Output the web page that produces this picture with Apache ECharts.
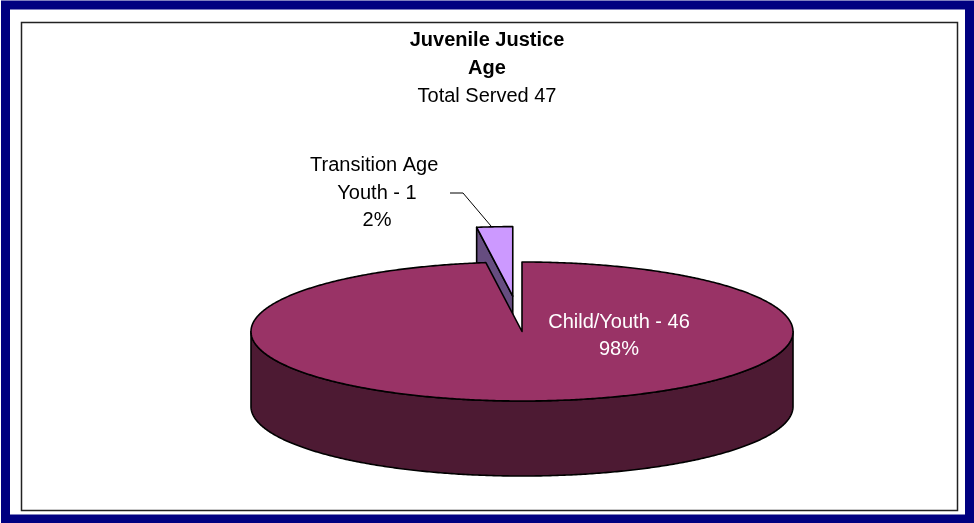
<!DOCTYPE html>
<html><head><meta charset="utf-8">
<script src="https://cdn.jsdelivr.net/npm/echarts@6/dist/echarts.min.js"></script>
<style>html,body{margin:0;padding:0;background:#fff}#c{width:974px;height:523px}</style>
</head><body><div id="c"></div>
<script>
// ---- data ----
const categories = ['Child/Youth', 'Transition Age Youth'];
const served = [46, 1];
const titleLines = ['Juvenile Justice', 'Age'];
const subtitlePrefix = 'Total Served ';

// ---- style / layout ----
const FONT = '"Liberation Sans", Arial, sans-serif';
const topColors = ['#993366', '#CC99FF'];
const sideColors = ['#4D1A33', '#664D80'];
const explode = [0, 0.51];
const labelLayout = [
  { dx: 97, dy: 4.5, color: '#ffffff', leader: false },
  { dx: -145, dy: -138.5, color: '#000000', leader: true }
];
const CX = 522, CY = 331.5, RX = 271, RY = 69.5, DEPTH = 75;

const total = served.reduce((a, b) => a + b, 0);
const cumStart = served.map((v, i) => served.slice(0, i).reduce((a, b) => a + b, 0));
const rad = d => d * Math.PI / 180;

function renderItem(params, api) {
  const i = params.dataIndex;
  const v = api.value(1);
  const a0 = echarts.number.linearMap(cumStart[i], [0, total], [0, 360]);
  const a1 = echarts.number.linearMap(cumStart[i] + v, [0, total], [0, 360]);
  const mid = (a0 + a1) / 2;
  const e = explode[i];
  const ox = RX * e * Math.sin(rad(mid));
  const oy = -RY * e * Math.cos(rad(mid));
  const P = (a, dz) => [CX + ox + RX * Math.sin(rad(a)), CY + oy - RY * Math.cos(rad(a)) + (dz || 0)];
  const apex = [CX + ox, CY + oy];
  const arc = (s, t, dz) => {
    const pts = [];
    const n = Math.max(2, Math.ceil(Math.abs(t - s) / 0.5));
    for (let k = 0; k <= n; k++) pts.push(P(s + (t - s) * k / n, dz));
    return pts;
  };
  const stroke = { stroke: '#000', lineWidth: 1.6, lineJoin: 'round' };
  const children = [];
  // radial faces
  [[a0, a0 - 90], [a1, a1 + 90]].forEach(([a, nrm]) => {
    if (Math.cos(rad(nrm)) < -1e-6) {
      const p = P(a), pb = P(a, DEPTH);
      children.push({ type: 'polygon', z2: 1,
        shape: { points: [apex, p, pb, [apex[0], apex[1] + DEPTH]] },
        style: Object.assign({ fill: sideColors[i] }, stroke) });
    }
  });
  // outer wall (front half)
  const s = Math.max(a0, 90), t = Math.min(a1, 270);
  if (s < t) {
    const pts = arc(s, t, 0).concat(arc(t, s, DEPTH));
    children.push({ type: 'polygon', z2: 2, shape: { points: pts },
      style: Object.assign({ fill: sideColors[i] }, stroke) });
  }
  // top face
  children.push({ type: 'polygon', z2: 3, shape: { points: [apex].concat(arc(a0, a1, 0)) },
    style: Object.assign({ fill: topColors[i] }, stroke) });
  // label
  const L = labelLayout[i];
  const pct = Math.round(v / total * 100);
  children.push({ type: 'text', z2: 5, x: CX + L.dx, y: CY + L.dy,
    style: { text: categories[i] + ' - ' + v + '\n' + pct + '%', fill: L.color,
      font: '20px ' + FONT, lineHeight: 27.5, align: 'center', verticalAlign: 'middle',
      width: 150, overflow: 'break' } });
  if (L.leader) {
    const tip = P(mid);
    const lx = CX + L.dx + 73, ly = CY + L.dy;
    children.push({ type: 'polyline', z2: 5,
      shape: { points: [[lx, ly], [lx + 13, ly], [tip[0] - 3, tip[1]]] },
      style: { stroke: '#000', lineWidth: 1, fill: null } });
  }
  return { type: 'group', children };
}

const chart = echarts.init(document.getElementById('c'), null, { renderer: 'canvas' });
chart.setOption({
  animation: false,
  title: {
    text: titleLines.join('\n'),
    subtext: subtitlePrefix + total,
    left: 'center', top: 21, itemGap: 0,
    textStyle: { fontFamily: FONT, fontSize: 20, fontWeight: 'bold', color: '#000', lineHeight: 28 },
    subtextStyle: { fontFamily: FONT, fontSize: 20, color: '#000', lineHeight: 28 }
  },
  graphic: [
    { type: 'rect', shape: { x: 5.5, y: 5, width: 964, height: 514 }, style: { fill: null, stroke: '#000080', lineWidth: 9 } },
    { type: 'rect', shape: { x: 21.5, y: 22.5, width: 936, height: 488 }, style: { fill: null, stroke: '#222', lineWidth: 1.5 } }
  ],
  series: [{
    type: 'custom',
    coordinateSystem: 'none',
    renderItem: renderItem,
    data: served.map((v, i) => ({ name: categories[i], value: [i, v] }))
  }]
});
</script></body></html>
